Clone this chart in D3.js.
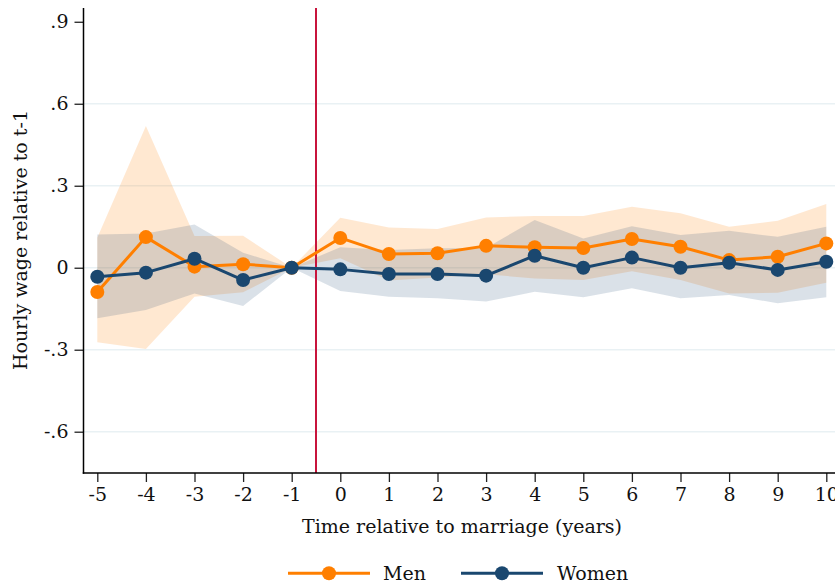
<!DOCTYPE html>
<html>
<head>
<meta charset="utf-8">
<script src="https://cdn.jsdelivr.net/npm/d3@7"></script>
<style>
  html, body { margin: 0; padding: 0; background: #fff; }
  svg { display: block; }
  text { font-family: "DejaVu Serif", "Liberation Serif", serif; fill: #111; }
</style>
</head>
<body>
<script>
// Event-study estimates: hourly wage relative to t-1, by years since marriage
const years = [-5, -4, -3, -2, -1, 0, 1, 2, 3, 4, 5, 6, 7, 8, 9, 10];

const menEst = [-0.089, 0.112, 0.004, 0.013, 0, 0.109, 0.050, 0.053, 0.080, 0.075, 0.072, 0.105, 0.077, 0.028, 0.040, 0.089];
const menLo  = [-0.273, -0.297, -0.106, -0.090, 0, 0.035, -0.047, -0.036, -0.024, -0.039, -0.045, -0.013, -0.045, -0.094, -0.092, -0.055];
const menHi  = [0.110, 0.519, 0.116, 0.117, 0, 0.183, 0.147, 0.142, 0.184, 0.189, 0.189, 0.223, 0.199, 0.150, 0.172, 0.233];

const womenEst = [-0.033, -0.018, 0.033, -0.045, 0, -0.006, -0.023, -0.023, -0.029, 0.044, 0.000, 0.037, 0.000, 0.018, -0.008, 0.022];
const womenLo  = [-0.185, -0.155, -0.094, -0.140, 0, -0.085, -0.106, -0.112, -0.124, -0.088, -0.108, -0.075, -0.112, -0.100, -0.130, -0.108];
const womenHi  = [0.122, 0.125, 0.158, 0.055, 0, 0.075, 0.065, 0.071, 0.072, 0.175, 0.107, 0.152, 0.120, 0.135, 0.113, 0.150];

const yTicks = [-0.6, -0.3, 0, 0.3, 0.6, 0.9];
const yTickLabels = ["-.6", "-.3", "0", ".3", ".6", ".9"];
const xTicks = years;
const marriageLine = -0.5;

const series = [
  { name: "Men",   est: menEst,   lo: menLo,   hi: menHi,   color: "#ff7f00", bandOpacity: 0.18 },
  { name: "Women", est: womenEst, lo: womenLo, hi: womenHi, color: "#1a476f", bandOpacity: 0.16 }
];

const W = 835, H = 585;
const axisX = 83.5, axisY = 473;
const FS = 19;

const x = d3.scaleLinear().domain([-5, 10]).range([97.3, 826.3]);
const y = d3.scaleLinear().domain([-0.75, 0.95]).range([472.7, 8.1]);

const svg = d3.select("body").append("svg").attr("width", W).attr("height", H);

// horizontal grid
svg.append("g").selectAll("line")
  .data(yTicks.filter(v => v < 0.9))
  .join("line")
  .attr("x1", axisX).attr("x2", W)
  .attr("y1", d => y(d)).attr("y2", d => y(d))
  .attr("stroke", "#e9f1f4").attr("stroke-width", 1.6);

// confidence bands
const area = d3.area()
  .x((d, i) => x(years[i]))
  .y0(d => y(d[0]))
  .y1(d => y(d[1]));

series.forEach(s => {
  const pts = years.map((_, i) => [s.lo[i], s.hi[i]]);
  svg.append("path")
    .attr("d", area(pts))
    .attr("fill", s.color)
    .attr("fill-opacity", s.bandOpacity);
});

// marriage reference line
svg.append("line")
  .attr("x1", x(marriageLine)).attr("x2", x(marriageLine))
  .attr("y1", y(0.95)).attr("y2", axisY)
  .attr("stroke", "#c8143c").attr("stroke-width", 2);

// estimate lines and markers
const line = d3.line().x((d, i) => x(years[i])).y(d => y(d));
series.forEach(s => {
  svg.append("path")
    .attr("d", line(s.est))
    .attr("fill", "none")
    .attr("stroke", s.color)
    .attr("stroke-width", 3)
    .attr("stroke-linejoin", "round");
  svg.append("g").selectAll("circle")
    .data(s.est)
    .join("circle")
    .attr("cx", (d, i) => x(years[i]))
    .attr("cy", d => y(d))
    .attr("r", 7)
    .attr("fill", s.color);
});

// axes
const yAxis = d3.axisLeft(y)
  .tickValues(yTicks)
  .tickFormat((d, i) => yTickLabels[i])
  .tickSize(9)
  .tickPadding(6);
const gy = svg.append("g").attr("transform", `translate(${axisX},0)`).call(yAxis);
gy.select(".domain").remove();
gy.append("line").attr("x1", 0).attr("x2", 0).attr("y1", y(0.95)).attr("y2", axisY + 0.75)
  .attr("stroke", "#000").attr("stroke-width", 1.5);
gy.selectAll(".tick line").attr("stroke", "#222").attr("stroke-width", 1.3);
gy.selectAll(".tick text").attr("font-size", FS).attr("fill", "#111")
  .attr("font-family", "DejaVu Serif, Liberation Serif, serif");

const xAxis = d3.axisBottom(x)
  .tickValues(xTicks)
  .tickFormat(d3.format("d"))
  .tickSize(9)
  .tickPadding(6);
const gx = svg.append("g").attr("transform", `translate(0,${axisY})`).call(xAxis);
gx.select(".domain").remove();
gx.append("line").attr("x1", axisX - 0.75).attr("x2", W).attr("y1", 0).attr("y2", 0)
  .attr("stroke", "#000").attr("stroke-width", 1.5);
gx.selectAll(".tick line").attr("stroke", "#222").attr("stroke-width", 1.3);
gx.selectAll(".tick text").attr("font-size", FS).attr("fill", "#111")
  .attr("font-family", "DejaVu Serif, Liberation Serif, serif")
  .text(d => d < 0 ? "-" + Math.abs(d) : String(d));

// axis titles
svg.append("text")
  .attr("x", 462).attr("y", 533)
  .attr("text-anchor", "middle")
  .attr("font-size", FS)
  .text("Time relative to marriage (years)");

svg.append("text")
  .attr("transform", "translate(27,240) rotate(-90)")
  .attr("text-anchor", "middle")
  .attr("font-size", FS)
  .text("Hourly wage relative to t-1");

// legend
const legend = svg.append("g");
const legendItems = [
  { s: series[0], x0: 288, x1: 370, tx: 383 },
  { s: series[1], x0: 461, x1: 543, tx: 557 }
];
legendItems.forEach(it => {
  const ly = 573.3;
  legend.append("line").attr("x1", it.x0).attr("x2", it.x1).attr("y1", ly).attr("y2", ly)
    .attr("stroke", it.s.color).attr("stroke-width", 3);
  legend.append("circle").attr("cx", (it.x0 + it.x1) / 2).attr("cy", ly).attr("r", 7)
    .attr("fill", it.s.color);
  legend.append("text").attr("x", it.tx).attr("y", ly + 7).attr("font-size", FS)
    .text(it.s.name);
});
</script>
</body>
</html>
